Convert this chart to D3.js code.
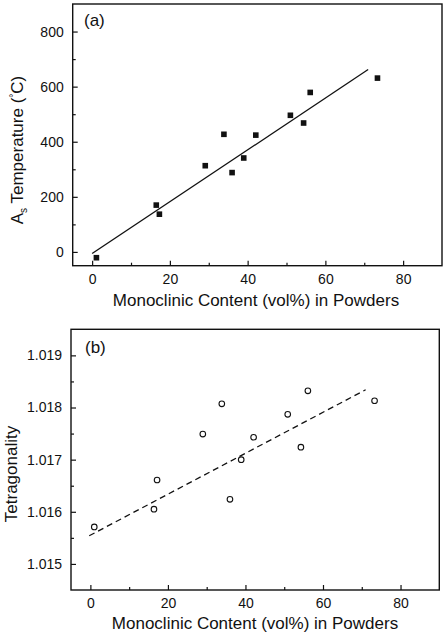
<!DOCTYPE html>
<html>
<head>
<meta charset="utf-8">
<script src="https://cdn.jsdelivr.net/npm/d3@7"></script>
<style>
  body { margin: 0; background: #fff; }
  svg text { font-family: "Liberation Sans", Arial, sans-serif; fill: #111; }
</style>
</head>
<body>
<svg id="chart" width="446" height="633"></svg>
<script>
// monoclinic content (vol%) of the powders, shared by both panels
const monoA = [1.1, 16.5, 17.3, 29.1, 33.9, 36.0, 39.0, 42.1, 51.0, 54.4, 56.1, 73.4];
const asTemp = [-21, 170, 137, 313, 427, 288, 341, 424, 496, 468, 579, 631];
const monoB = [1.0, 16.4, 17.2, 29.0, 33.9, 36.0, 38.9, 42.1, 50.9, 54.3, 56.1, 73.3];
const tetra = [1.01571, 1.01605, 1.01661, 1.01749, 1.01807, 1.01624, 1.017, 1.01743, 1.01787, 1.01724, 1.01832, 1.01813];

// fitted lines, end points
const fitA = [[0, -6], [71, 662]];
const fitB = [[-0.3, 1.01554], [71, 1.01834]];

const xTicks = [0, 20, 40, 60, 80];
const xMinor = [10, 30, 50, 70];
const yTicksA = [0, 200, 400, 600, 800];
const yMinorA = [100, 300, 500, 700];
const yTicksB = [1.015, 1.016, 1.017, 1.018, 1.019];
const yMinorB = [1.0155, 1.0165, 1.0175, 1.0185];

const svg = d3.select("#chart");

function panel(box, yDomain, yTicks, yMinor, yFmt) {
  var x = d3.scaleLinear().domain([-5, 90]).range([box.left, box.right]);
  var y = d3.scaleLinear().domain(yDomain).range([box.bottom, box.top]);

  var g = svg.append("g");

  // inward ticks, like Origin does
  g.append("g")
    .attr("transform", "translate(0," + box.bottom + ")")
    .call(d3.axisBottom(x).tickValues(xTicks).tickSize(-5).tickPadding(8).tickFormat(d3.format("d")))
    .call((a) => a.select(".domain").remove());
  g.append("g")
    .attr("transform", "translate(0," + box.bottom + ")")
    .call(d3.axisBottom(x).tickValues(xMinor).tickSize(-3).tickFormat(""))
    .call((a) => a.select(".domain").remove());
  g.append("g")
    .attr("transform", "translate(" + box.left + ",0)")
    .call(d3.axisLeft(y).tickValues(yTicks).tickSize(-5).tickPadding(9).tickFormat(yFmt))
    .call((a) => a.select(".domain").remove());
  g.append("g")
    .attr("transform", "translate(" + box.left + ",0)")
    .call(d3.axisLeft(y).tickValues(yMinor).tickSize(-3).tickFormat(""))
    .call((a) => a.select(".domain").remove());

  g.selectAll(".tick line").attr("stroke", "#111").attr("stroke-width", 1.2);
  g.selectAll(".tick text").style("font-size", "14px").attr("fill", "#111");

  g.append("rect")
    .attr("x", box.left)
    .attr("y", box.top)
    .attr("width", box.right - box.left)
    .attr("height", box.bottom - box.top)
    .attr("fill", "none")
    .attr("stroke", "#111")
    .attr("stroke-width", 1.4);

  return { g: g, x: x, y: y };
}

// (a) As temperature
var boxA = { left: 72.7, right: 442, top: 4, bottom: 265.7 };
var pa = panel(boxA, [-50, 900], yTicksA, yMinorA, d3.format("d"));

pa.g.append("line")
  .attr("x1", pa.x(fitA[0][0])).attr("y1", pa.y(fitA[0][1]))
  .attr("x2", pa.x(fitA[1][0])).attr("y2", pa.y(fitA[1][1]))
  .attr("stroke", "#111").attr("stroke-width", 1.3);

pa.g.selectAll(".sq")
  .data(monoA)
  .enter()
  .append("rect")
  .attr("class", "sq")
  .attr("x", (d) => pa.x(d) - 2.8)
  .attr("y", (d, i) => pa.y(asTemp[i]) - 2.8)
  .attr("width", 5.6)
  .attr("height", 5.6)
  .attr("fill", "#111");

pa.g.append("text").attr("x", 84).attr("y", 26).style("font-size", "17px").text("(a)");

pa.g.append("text")
  .attr("x", 256).attr("y", 306)
  .attr("text-anchor", "middle")
  .style("font-size", "17px")
  .text("Monoclinic Content (vol%) in Powders");

var ttlA = pa.g.append("text")
  .attr("transform", "translate(23,150) rotate(-90)")
  .attr("text-anchor", "middle")
  .style("font-size", "17px");
ttlA.append("tspan").text("A");
ttlA.append("tspan").attr("dy", 4).style("font-size", "10px").text("s");
ttlA.append("tspan").attr("dy", -4).text(" Temperature (");
ttlA.append("tspan").attr("dy", -6).style("font-size", "10px").text("°");
ttlA.append("tspan").attr("dy", 6).text("C)");

// (b) tetragonality
var boxB = { left: 71, right: 439.3, top: 329.3, bottom: 590 };
var pb = panel(boxB, [1.0145, 1.0195], yTicksB, yMinorB, d3.format(".3f"));

pb.g.append("line")
  .attr("x1", pb.x(fitB[0][0])).attr("y1", pb.y(fitB[0][1]))
  .attr("x2", pb.x(fitB[1][0])).attr("y2", pb.y(fitB[1][1]))
  .attr("stroke", "#111").attr("stroke-width", 1.3)
  .attr("stroke-dasharray", "6,4");

pb.g.selectAll(".ci")
  .data(monoB)
  .enter()
  .append("circle")
  .attr("class", "ci")
  .attr("cx", (d) => pb.x(d))
  .attr("cy", (d, i) => pb.y(tetra[i]))
  .attr("r", 2.8)
  .attr("fill", "none")
  .attr("stroke", "#111")
  .attr("stroke-width", 1.1);

pb.g.append("text").attr("x", 85).attr("y", 353).style("font-size", "17px").text("(b)");

pb.g.append("text")
  .attr("x", 255).attr("y", 629)
  .attr("text-anchor", "middle")
  .style("font-size", "17px")
  .text("Monoclinic Content (vol%) in Powders");

pb.g.append("text")
  .attr("transform", "translate(17,474) rotate(-90)")
  .attr("text-anchor", "middle")
  .style("font-size", "17px")
  .text("Tetragonality");
</script>
</body>
</html>
